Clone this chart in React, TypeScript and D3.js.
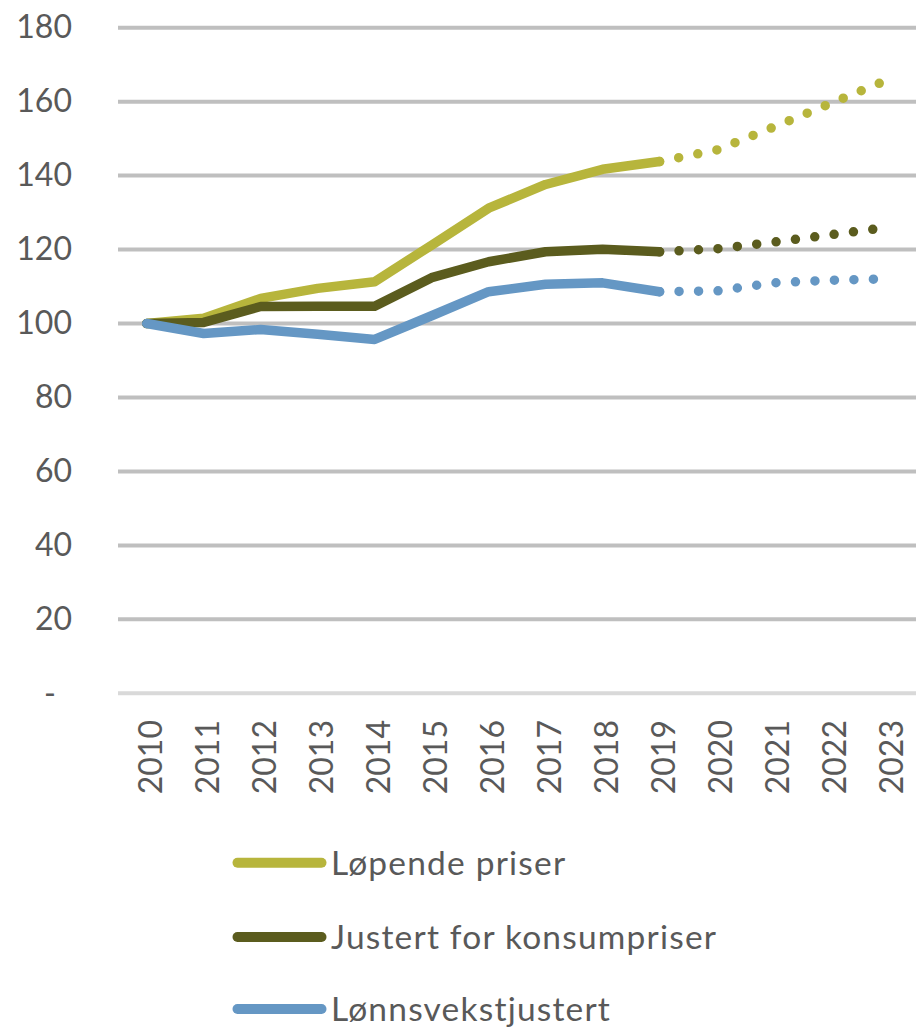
import * as d3 from "d3";
import { useEffect, useRef } from "react";

const years = ["2010", "2011", "2012", "2013", "2014", "2015", "2016", "2017", "2018", "2019", "2020", "2021", "2022", "2023"];
const lopende = [100, 101.4, 106.8, 109.5, 111.3, 121.2, 131.2, 137.6, 141.7, 143.8, 146.9, 153.1, 159.5, 165.9];
const justert = [100, 100.3, 104.6, 104.7, 104.7, 112.4, 116.7, 119.4, 120.1, 119.4, 120.2, 122.0, 124.0, 126.0];
const lonn = [100, 97.3, 98.4, 97.1, 95.7, 102.1, 108.6, 110.6, 111.0, 108.6, 108.8, 111.0, 111.7, 112.1];
const yTicks = [0, 20, 40, 60, 80, 100, 120, 140, 160, 180];
const lastActual = "2019";

const seriesList = [
  { name: "Løpende priser", values: lopende, color: "#b7b53c" },
  { name: "Justert for konsumpriser", values: justert, color: "#5b5c1e" },
  { name: "Lønnsvekstjustert", values: lonn, color: "#6597c4" },
];

const W = 916;
const H = 1027;
const font = "Lato, 'Open Sans', sans-serif";
const textColor = "#595959";

const App = () => {
  const svgRef = useRef<SVGSVGElement | null>(null);

  useEffect(() => {
    if (!svgRef.current) return;
    const svg = d3.select(svgRef.current);
    svg.selectAll("*").remove();

    const x = d3.scaleBand<string>().domain(years).range([118.2, 916]).padding(0);
    const cx = (yr: string) => x(yr)! + x.bandwidth() / 2;
    const y = d3.scaleLinear().domain([0, 180]).range([693.3, 27.7]);

    // gridlines
    svg.append("g")
      .selectAll("line")
      .data(yTicks)
      .enter().append("line")
      .attr("x1", 118)
      .attr("x2", W)
      .attr("y1", d => y(d))
      .attr("y2", d => y(d))
      .attr("stroke", d => (d === 0 ? "#d9d9d9" : "#bfbfbf"))
      .attr("stroke-width", 4);

    // y labels
    svg.append("g")
      .selectAll("text")
      .data(yTicks)
      .enter().append("text")
      .attr("x", d => (d === 0 ? 56 : 72))
      .attr("y", d => (d === 0 ? y(d) + 12 : y(d) + 10.5))
      .attr("text-anchor", "end")
      .attr("font-family", font)
      .attr("font-size", 32)
      .attr("fill", textColor)
      .text(d => (d === 0 ? "-" : String(d)));

    // x labels
    svg.append("g")
      .selectAll("text")
      .data(years)
      .enter().append("text")
      .attr("transform", d => `translate(${cx(d) + 15}, 720) rotate(-90)`)
      .attr("text-anchor", "end")
      .attr("font-family", font)
      .attr("font-size", 32)
      .attr("fill", textColor)
      .text(d => d);

    const splitIdx = years.indexOf(lastActual);
    const line = d3.line<number>()
      .x((_, i) => cx(years[i]))
      .y(d => y(d));
    const lineFrom = d3.line<[string, number]>()
      .x(d => cx(d[0]))
      .y(d => y(d[1]));

    seriesList.forEach(s => {
      const actual = s.values.slice(0, splitIdx + 1);
      const forecast: [string, number][] = s.values
        .map((v, i) => [years[i], v] as [string, number])
        .slice(splitIdx);

      // forecast part, dotted
      svg.append("path")
        .attr("d", lineFrom(forecast)!)
        .attr("fill", "none")
        .attr("stroke", s.color)
        .attr("stroke-width", 9.5)
        .attr("stroke-linecap", "round")
        .attr("stroke-dasharray", "0 19.5");

      svg.append("path")
        .attr("d", line(actual)!)
        .attr("fill", "none")
        .attr("stroke", s.color)
        .attr("stroke-width", 9.5)
        .attr("stroke-linecap", "round")
        .attr("stroke-linejoin", "round");
    });

    // legend
    const legend = svg.append("g");
    const rowY = [862.7, 937, 1009];
    seriesList.forEach((s, i) => {
      legend.append("line")
        .attr("x1", 237.5)
        .attr("x2", 321.5)
        .attr("y1", rowY[i])
        .attr("y2", rowY[i])
        .attr("stroke", s.color)
        .attr("stroke-width", 10)
        .attr("stroke-linecap", "round");
      legend.append("text")
        .attr("x", 331)
        .attr("y", rowY[i] + 12)
        .attr("font-family", font)
        .attr("font-size", 33.5)
        .attr("letter-spacing", 1.2)
        .attr("fill", textColor)
        .text(s.name);
    });
  }, []);

  return (
    <svg
      ref={svgRef}
      width={W}
      height={H}
      style={{ position: "absolute", left: 0, top: 0, background: "#ffffff" }}
    />
  );
};

export default App;
